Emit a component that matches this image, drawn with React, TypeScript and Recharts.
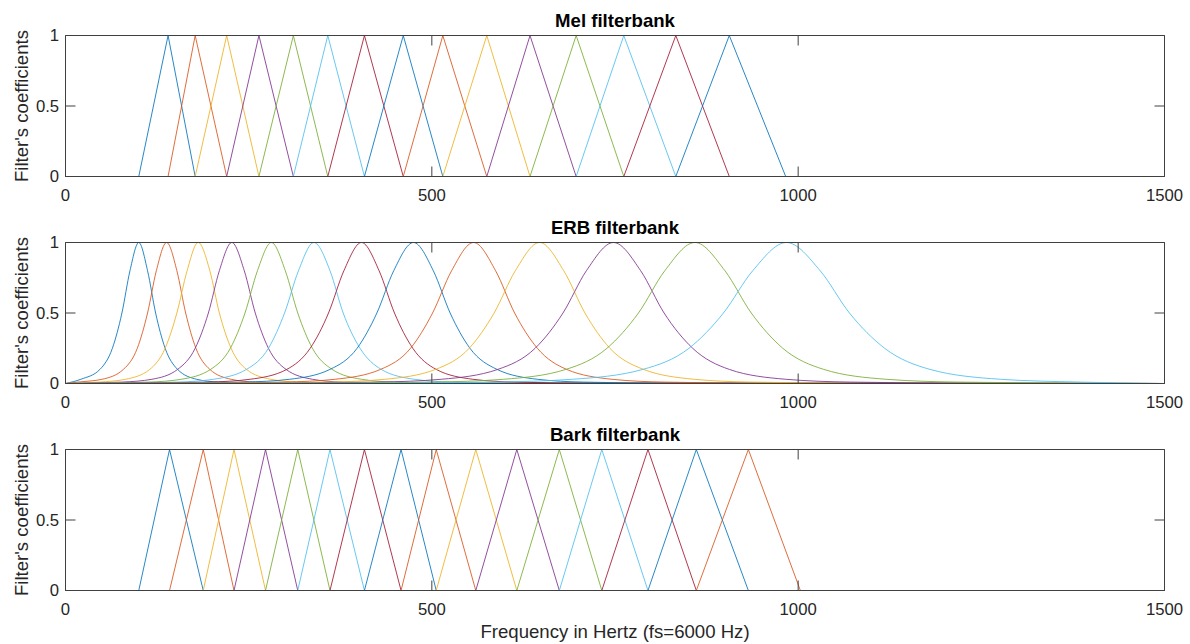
import React from "react";
import { LineChart, Line, XAxis, YAxis } from "recharts";

// triangle edges (Hz): start, peaks..., end
const melEdges = [100, 140, 177, 220, 264, 311, 358, 408, 461, 515, 575, 634, 697, 762, 833, 906, 983];
const barkEdges = [100, 142, 188, 230, 273, 317, 361, 408, 458, 506, 560, 616, 674, 732, 795, 861, 932, 1003];

// ERB curves: frequency (Hz) where each filter crosses these levels
const erbLevels = [0.002, 0.01, 0.03, 0.1, 0.25, 0.5, 0.8, 1, 0.8, 0.5, 0.25, 0.1, 0.03, 0.01, 0.002];
const erbFreqs: (number | null)[][] = [
  [null, null, 21, 47, 64, 77, 88, 100, 112, 123, 136, 153, 179, 209, 267],
  [null, 17, 50, 79, 98, 112, 124, 138, 152, 164, 178, 197, 226, 259, 325],
  [null, 46, 82, 115, 136, 152, 166, 181, 197, 210, 226, 247, 280, 316, 389],
  [null, 77, 118, 153, 177, 195, 210, 227, 244, 259, 277, 301, 337, 377, 459],
  [22, 113, 158, 198, 225, 245, 262, 281, 300, 317, 337, 364, 404, 449, 540],
  [50, 152, 202, 247, 277, 299, 318, 339, 361, 379, 402, 431, 476, 527, 628],
  [82, 195, 252, 302, 334, 359, 380, 404, 428, 449, 474, 506, 556, 613, 726],
  [117, 243, 306, 361, 398, 425, 448, 475, 502, 525, 552, 589, 644, 707, 833],
  [157, 298, 368, 430, 471, 501, 527, 557, 587, 613, 644, 684, 746, 817, 957],
  [202, 358, 436, 505, 551, 585, 614, 647, 680, 709, 743, 789, 858, 936, 1092],
  [251, 426, 513, 590, 641, 679, 711, 748, 785, 817, 856, 906, 983, 1071, 1245],
  [306, 500, 598, 683, 739, 782, 818, 859, 900, 936, 979, 1035, 1120, 1218, 1412],
  [367, 584, 692, 788, 851, 898, 938, 984, 1030, 1070, 1118, 1180, 1276, 1385, null],
];

const xTicks = [0, 500, 1000, 1500];
const yTicks = [0, 0.5, 1];

// matlab default color order
const colors = ["#0072BD", "#D95319", "#EDB120", "#7E2F8E", "#77AC30", "#4DBEEE", "#A2142F"];

const FONT = "'Liberation Sans', Arial, sans-serif";
const INK = "#262626";
const BOX = "#404040";
const PLOT_LEFT = 65.5;
const PLOT_RIGHT = 1164.5;
const PLOT_H = 141;
const TOP_AX = 10.5;
const BOTTOM_AX = 40;

type Pt = { f: number; v: number };

function triangles(edges: number[]): Pt[][] {
  const out: Pt[][] = [];
  for (let i = 0; i + 2 < edges.length; i++) {
    out.push([
      { f: 0, v: 0 },
      { f: edges[i], v: 0 },
      { f: edges[i + 1], v: 1 },
      { f: edges[i + 2], v: 0 },
      { f: 1500, v: 0 },
    ]);
  }
  return out;
}

function erbCurves(): Pt[][] {
  return erbFreqs.map((row) => {
    const pts: Pt[] = [{ f: 0, v: 0 }];
    row.forEach((f, j) => {
      if (f !== null) pts.push({ f, v: erbLevels[j] });
    });
    pts.push({ f: 1500, v: 0 });
    return pts;
  });
}

const tickStyle = { fill: INK, fontSize: 16.7, fontFamily: FONT };
const noLabel = () => "";

function Panel({ top, title, curves, smooth }: { top: number; title: string; curves: Pt[][]; smooth?: boolean }) {
  const plotTop = top + TOP_AX;
  const centerY = plotTop + PLOT_H / 2;
  return (
    <>
      <div
        style={{
          position: "absolute",
          left: (PLOT_LEFT + PLOT_RIGHT) / 2,
          top: plotTop - 14.5,
          transform: "translate(-50%, -50%)",
          fontSize: 18.6,
          fontWeight: "bold",
          lineHeight: 1,
          whiteSpace: "nowrap",
          color: "#000",
        }}
      >
        {title}
      </div>
      <div
        style={{
          position: "absolute",
          left: 22,
          top: centerY,
          transform: "translate(-50%, -50%) rotate(-90deg)",
          fontSize: 18.6,
          lineHeight: 1,
          whiteSpace: "nowrap",
          color: INK,
        }}
      >
        Filter's coefficients
      </div>
      <div style={{ position: "absolute", left: 0, top }}>
        <LineChart width={1190} height={TOP_AX + PLOT_H + BOTTOM_AX} margin={{ top: 0, right: 0, bottom: 0, left: 0 }}>
          <XAxis
            xAxisId="bottom"
            type="number"
            dataKey="f"
            domain={[0, 1500]}
            ticks={xTicks}
            interval={0}
            height={BOTTOM_AX}
            tickSize={-10}
            tickMargin={22.5}
            tick={tickStyle}
            axisLine={{ stroke: BOX }}
            tickLine={{ stroke: BOX }}
          />
          <XAxis
            xAxisId="top"
            orientation="top"
            type="number"
            dataKey="f"
            domain={[0, 1500]}
            ticks={xTicks}
            interval={0}
            height={TOP_AX}
            tickSize={-10}
            tickFormatter={noLabel}
            axisLine={{ stroke: BOX }}
            tickLine={{ stroke: BOX }}
          />
          <YAxis
            yAxisId="left"
            type="number"
            domain={[0, 1]}
            ticks={yTicks}
            interval={0}
            width={PLOT_LEFT}
            tickSize={-10}
            tickMargin={16.4}
            tick={tickStyle}
            axisLine={{ stroke: BOX }}
            tickLine={{ stroke: BOX }}
          />
          <YAxis
            yAxisId="right"
            orientation="right"
            type="number"
            domain={[0, 1]}
            ticks={yTicks}
            interval={0}
            width={1190 - PLOT_RIGHT}
            tickSize={-10}
            tickFormatter={noLabel}
            axisLine={{ stroke: BOX }}
            tickLine={{ stroke: BOX }}
          />
          {/* invisible series so the top/right box axes get their ticks */}
          <Line
            xAxisId="top"
            yAxisId="right"
            data={curves[0]}
            dataKey="v"
            stroke="none"
            dot={false}
            activeDot={false}
            isAnimationActive={false}
          />
          {curves.map((pts, i) => (
            <Line
              key={i}
              xAxisId="bottom"
              yAxisId="left"
              data={pts}
              dataKey="v"
              type={smooth ? "monotone" : "linear"}
              stroke={colors[i % colors.length]}
              strokeWidth={0.85}
              dot={false}
              activeDot={false}
              isAnimationActive={false}
            />
          ))}
        </LineChart>
      </div>
    </>
  );
}

export default function App() {
  return (
    <div
      style={{
        position: "absolute",
        left: 0,
        top: 0,
        width: 1190,
        height: 644,
        background: "#fff",
        fontFamily: FONT,
      }}
    >
      <Panel top={25} title="Mel filterbank" curves={triangles(melEdges)} />
      <Panel top={232} title="ERB filterbank" curves={erbCurves()} smooth />
      <Panel top={439} title="Bark filterbank" curves={triangles(barkEdges)} />
      <div
        style={{
          position: "absolute",
          left: (PLOT_LEFT + PLOT_RIGHT) / 2,
          top: 632,
          transform: "translate(-50%, -50%)",
          fontSize: 18.6,
          lineHeight: 1,
          whiteSpace: "nowrap",
          color: INK,
        }}
      >
        Frequency in Hertz (fs=6000 Hz)
      </div>
    </div>
  );
}
